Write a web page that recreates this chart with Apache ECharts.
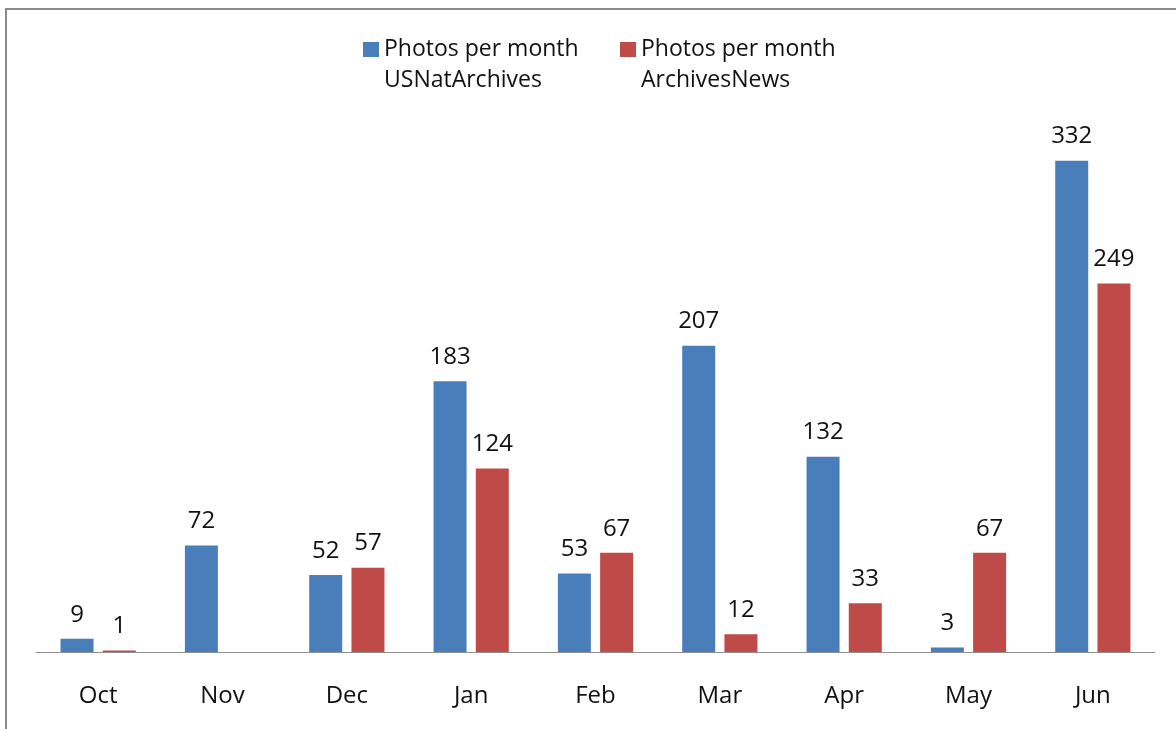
<!DOCTYPE html>
<html>
<head>
<meta charset="utf-8">
<script src="https://cdn.jsdelivr.net/npm/echarts@6/dist/echarts.min.js"></script>
<style>
html,body{margin:0;padding:0;background:#fff;}
#chart{width:1176px;height:729px;}
</style>
</head>
<body>
<div id="chart"></div>
<script>
const months = ['Oct', 'Nov', 'Dec', 'Jan', 'Feb', 'Mar', 'Apr', 'May', 'Jun'];
const seriesNames = ['Photos per month\nUSNatArchives', 'Photos per month\nArchivesNews'];
const usNatArchives = [9, 72, 52, 183, 53, 207, 132, 3, 332];
const archivesNews = [1, 0, 57, 124, 67, 12, 33, 67, 249];

const FONT = "'Open Sans', 'Noto Sans', sans-serif";
const chart = echarts.init(document.getElementById('chart'));

const labelCfg = {
  show: true,
  position: 'top',
  distance: 12,
  fontFamily: FONT,
  fontSize: 24,
  color: '#111',
  formatter: p => (p.value === 0 ? '' : String(p.value))
};

chart.setOption({
  animation: false,
  backgroundColor: '#fff',
  graphic: [{
    type: 'rect',
    shape: { x: 6, y: 9, width: 1400, height: 1000 },
    style: { fill: 'none', stroke: '#8a8a8a', lineWidth: 2 },
    silent: true
  }],
  legend: {
    left: 363,
    top: 3,
    padding: 0,
    icon: 'rect',
    itemWidth: 16,
    itemHeight: 15,
    itemGap: 21,
    formatter: name => '\n' + name,
    textStyle: {
      fontFamily: FONT,
      fontSize: 23,
      color: '#111',
      lineHeight: 31,
      width: 215,
      overflow: 'none'
    },
    data: seriesNames
  },
  grid: { left: 36, right: 21, top: 134, bottom: 77, containLabel: false },
  xAxis: {
    type: 'category',
    data: months,
    axisLine: { show: true, lineStyle: { color: '#8f8f8f', width: 1 } },
    axisTick: { show: false },
    axisLabel: { margin: 32, fontFamily: FONT, fontSize: 24, color: '#111' }
  },
  yAxis: {
    type: 'value',
    min: 0,
    max: 350,
    show: false,
    splitLine: { show: false }
  },
  series: [
    {
      name: seriesNames[0],
      type: 'bar',
      data: usNatArchives,
      barWidth: 33,
      barGap: '28%',
      itemStyle: { color: '#4a7ebb' },
      label: labelCfg
    },
    {
      name: seriesNames[1],
      type: 'bar',
      data: archivesNews,
      barWidth: 33,
      barGap: '28%',
      itemStyle: { color: '#be4b48' },
      label: labelCfg
    }
  ]
});
</script>
</body>
</html>
